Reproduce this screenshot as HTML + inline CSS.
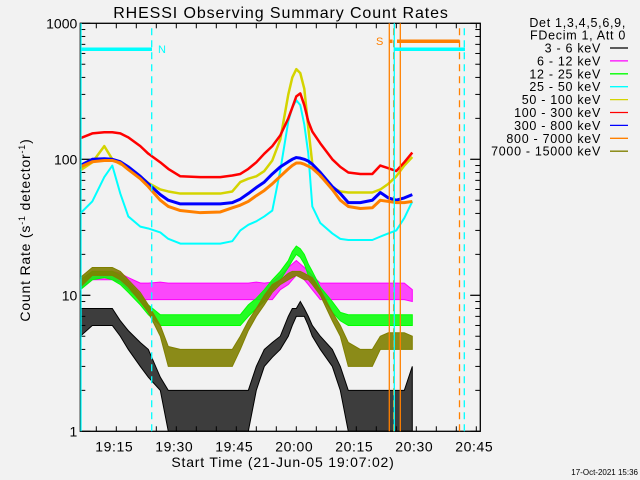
<!DOCTYPE html>
<html><head><meta charset="utf-8"><style>
body{margin:0;background:#f2f2f2;}
svg{display:block;font-family:"Liberation Sans",sans-serif;}
</style></head><body>
<svg id="chart" width="640" height="480" viewBox="0 0 640 480">
<rect x="0" y="0" width="640" height="480" fill="#f2f2f2"/>
<text x="281" y="18" font-size="16" letter-spacing="0.9" text-anchor="middle" fill="#000">RHESSI Observing Summary Count Rates</text>
<g id="axes"></g>
<g id="series"></g>
<g id="markers"></g>
<text x="30" y="230" font-size="14" letter-spacing="0.8" text-anchor="middle" transform="rotate(-90 30 230)">Count Rate (s<tspan font-size="9" dy="-5">-1</tspan><tspan dy="5"> detector</tspan><tspan font-size="9" dy="-5">-1</tspan><tspan dy="5">)</tspan></text>
<text x="283" y="467" font-size="14" letter-spacing="0.8" text-anchor="middle">Start Time (21-Jun-05 19:07:02)</text>
<text x="638" y="475" font-size="8" text-anchor="end">17-Oct-2021 15:36</text>
<g id="legend"></g>
</svg>
<script>
const T = [0,3,6,8,10,12,15,17,20,22,25,30,35,38,40,42,44,46,48,50,52,53,54,55,56,57,58,60,63,65,67,70,73,75,77,79,81,83];
const red = [143,155,158,158,155,145,125,110,95,85,75,74,74,76,78,85,95,110,125,150,200,240,290,305,250,190,160,131,100,88,80,78,78,90,86,82,95,112];
const yellow = [83,95,125,100,92,88,75,67,60,58,56,56,56,58,68,72,75,82,98,140,300,400,460,430,330,170,93,75,62,58,57,57,57,60,66,75,90,104];
const blue = [90,100,101,100,96,88,75,66,55,50,47,47,47,48,51,56,62,68,78,88,96,100,103,102,100,97,92,80,63,56,48,48,50,57,52,50,52,55];
const orange = [88,96,98,98,94,84,72,63,50,45,42,40.5,41,44,46,49,54,59,66,75,85,90,94,94,92,89,86,76,60,50,45,43.5,44,50,49,48,48,49];
const cyan = [40,49,74,90,56,38,32,31,29,26,24,24,24,25,30,33,35,38,42,83,190,240,272,250,180,110,45,34,28.5,26,25.5,25.5,25.5,27,28.5,30,37,49];
const magentaLo = [11,13,13,13,12.5,11,9.3,9.3,9.3,9.3,9.3,9.3,9.3,9.3,9.3,9.3,9.3,9.3,9.3,11,12,13,14,14,13,12,11,9.3,9.3,9.3,9.3,9.3,9.3,9.3,9.3,9.3,9.3,9];
const magentaHi = [13,15,15,15,14.5,13.5,12.3,12.3,12.5,12.3,12.3,12.3,12.3,12.3,12.3,12.3,12.5,12.3,12.5,14,16,17,18,17,16,15,14,12.3,12.3,12.3,12.3,12.3,12.3,12.3,12.3,12.3,12.3,11];
const greenLo = [11,13,13.5,13,12,10.5,8.5,7.2,6,6,6,6,6,6,6,7,8,9,11,13,16,18,20,19,17,14,12.5,10,7.5,6.5,6,6,6,6,6,6,6,6];
const greenHi = [13,15,15,15,14,12.5,10,8.5,7.2,7.2,7.2,7.2,7.2,7.2,7.2,8.5,9.5,11,13,15,18,21,23,22,20,17,15,11.5,9,7.5,7.2,7.2,7.2,7.2,7.2,7.2,7.2,7.2];
const oliveLo = [11.5,14,14,14,13,11.5,9,7.5,5,3,3,3,3,3,4,5.5,7,8.5,10.5,12,13,13.5,14,13.5,13,13,12,10,6.5,5,3,3,3,4,4,4,4,4];
const oliveHi = [13.5,16,16,16,15,13,10.5,8.5,6,4.2,4,4,4,4,5,6.5,8,10,12,13,14.5,15,15,15,14.5,14,13.5,11,7.5,6,4.5,4,4,5,5.3,5.3,5.3,5];
const blackLo = [5,6,6,6,5,4,3,2.5,2,0.8,0.8,0.8,0.8,0.8,0.8,0.8,2,3,3.5,4,5,6,7,7,7,6,5,4,3,2,0.8,0.8,0.8,0.8,0.8,0.8,0.8,0.8];
const blackHi = [8,8,8,8,6.5,5.5,4.5,4,2.5,2,2,2,2,2,2,2,3,4,4.5,5,7,8,8,9,8,7,6,5,4,3,2,2,2,2,2,2,2,3];
const yTickVals = [1,10,100,1000];
const yTickLabels = ["1","10","100","1000"];
const xTickMins = [8,23,38,53,68,83,98];
const xTickLabels = ["19:15","19:30","19:45","20:00","20:15","20:30","20:45"];
const legendLabels = ["3 - 6 keV","6 - 12 keV","12 - 25 keV","25 - 50 keV","50 - 100 keV","100 - 300 keV","300 - 800 keV","800 - 7000 keV","7000 - 15000 keV"];
const legendColors = ["#000000","#ff00ff","#00ff00","#00ffff","#d4d400","#ff0000","#0000ff","#ff8000","#808000"];

const X0=80.3, X1=480.3, Y0=431.3, Y1=23.3, DEC=136;
function xS(t){return X0+4*t;}
function yS(v){return Y0-DEC*Math.log10(v);}
const NS="http://www.w3.org/2000/svg";
function mk(tag,parent,attrs){const e=document.createElementNS(NS,tag);for(const k in attrs)e.setAttribute(k,attrs[k]);parent.appendChild(e);return e;}
const axes=document.getElementById('axes');
const box=mk('rect',axes,{x:X0,y:Y1,width:X1-X0,height:Y0-Y1,fill:'none',stroke:'#000','stroke-width':1.3});


for(let d=0;d<3;d++){for(let m=1;m<=10;m++){const v=Math.pow(10,d)*m;const y=yS(v);const L=(m===1||m===10)?10:5;
 const a=mk('line',axes,{x1:X0,x2:X0+L,y1:y,y2:y,stroke:'#000'});
 const b=mk('line',axes,{x1:X1,x2:X1-L,y1:y,y2:y,stroke:'#000'});}}
yTickVals.forEach((v,i)=>{const t=mk('text',axes,{x:X0-3,y:yS(v)+5,'font-size':14,'text-anchor':'end'});t.textContent=yTickLabels[i];
 });
for(let m=-2;m<=100;m+=5){const x=xS(m+1);if(x<X0||x>X1)continue;const major=((m+1-8)%15===0);const L=major?10:5;
 const a=mk('line',axes,{x1:x,x2:x,y1:Y0,y2:Y0-L,stroke:'#000'});
 const b=mk('line',axes,{x1:x,x2:x,y1:Y1,y2:Y1+L,stroke:'#000'});}
xTickMins.forEach((m,i)=>{const t=mk('text',axes,{x:xS(m)+2,y:Y0+20,'font-size':14,'letter-spacing':0.6,'text-anchor':'middle'});t.textContent=xTickLabels[i];
 });
const sg=document.getElementById('series');
const clip=mk('clipPath',sg,{id:'pc'});mk('rect',clip,{x:X0,y:Y1,width:X1-X0,height:Y0-Y1});
function clampY(v){return Math.min(yS(v),Y0);}
function band(lo,hi,color,op,name){let p=[];for(let i=0;i<T.length;i++){p.push(xS(T[i])+','+clampY(hi[i]));}
 for(let i=T.length-1;i>=0;i--){p.push(xS(T[i])+','+clampY(lo[i]));}
 const e=mk('polygon',sg,{points:p.join(' '),fill:color,'fill-opacity':op,stroke:color,'stroke-width':1,'clip-path':'url(#pc)'});
 }
function line(vals,color,w,name){let p=[];for(let i=0;i<T.length;i++){p.push(xS(T[i])+','+yS(vals[i]));}
 const e=mk('polyline',sg,{points:p.join(' '),fill:'none',stroke:color,'stroke-width':w,'stroke-linejoin':'round','clip-path':'url(#pc)'});
 }
band(blackLo,blackHi,'#000000',0.75,'series-3-6kev');
band(magentaLo,magentaHi,'#ff00ff',0.7,'series-6-12kev');
band(greenLo,greenHi,'#00ff00',0.85,'series-12-25kev');
line(cyan,'#00ffff',2,'series-25-50kev');
line(yellow,'#d4d400',2.5,'series-50-100kev');
line(red,'#ff0000',2.5,'series-100-300kev');
line(blue,'#0000ff',3,'series-300-800kev');
line(orange,'#ff8000',3,'series-800-7000kev');
band(oliveLo,oliveHi,'#808000',0.9,'series-7000-15000kev');
const mg=document.getElementById('markers');
function vl(x,color,dash,name){const e=mk('line',mg,{x1:x,x2:x,y1:Y0,y2:Y1,stroke:color,'stroke-width':1.3});if(dash)e.setAttribute('stroke-dasharray','7,5');
 }
function hl(x1,x2,y,color,name){const e=mk('line',mg,{x1:x1,x2:x2,y1:y,y2:y,stroke:color,'stroke-width':3.5});
 }
vl(81,'#00ffff',false,'night-end-line');
vl(151.7,'#00ffff',true,'night-start-line');
hl(81,152,49.3,'#00ffff','night-bar');
vl(389.3,'#ff8000',false,'saa-line-1');
vl(393.7,'#ff8000',true,'saa-dashed-line');
vl(394.3,'#00ffff',false,'night-line-2');
vl(400.3,'#ff8000',false,'saa-line-2');
vl(459.5,'#ff8000',true,'saa-end-line');
vl(464.3,'#00ffff',true,'night-end-line-2');
hl(389.5,392.5,41.3,'#ff8000','saa-bar-short');
hl(397,459.5,41.3,'#ff8000','saa-bar');
hl(394.3,465,49.3,'#00ffff','night-bar-2');
let tn=mk('text',mg,{x:158,y:53,'font-size':11,fill:'#00ffff'});tn.textContent='N';

let ts=mk('text',mg,{x:376,y:45,'font-size':11,fill:'#ff8000'});ts.textContent='S';

const lg=document.getElementById('legend');
let h1=mk('text',lg,{x:626,y:27,'font-size':12.5,'letter-spacing':0.7,'text-anchor':'end'});h1.textContent='Det 1,3,4,5,6,9,';

let h2=mk('text',lg,{x:626,y:39.7,'font-size':12.5,'letter-spacing':0.7,'text-anchor':'end'});h2.textContent='FDecim 1, Att 0';

legendLabels.forEach((lab,i)=>{const y=48+12.9*i;
 const t=mk('text',lg,{x:601,y:y+4.5,'font-size':12.5,'letter-spacing':0.7,'text-anchor':'end','xml:space':'preserve'});t.textContent=lab.replace(' - ','  -  ');
 
 const l=mk('line',lg,{x1:610,x2:628,y1:y,y2:y,stroke:legendColors[i],'stroke-width':1.3});
 });
</script>
</body></html>
